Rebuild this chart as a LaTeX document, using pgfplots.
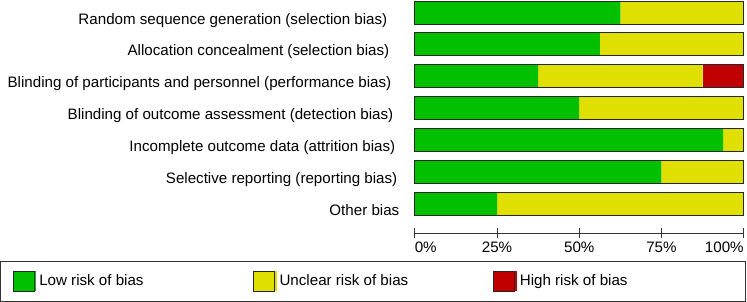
\documentclass[border=0pt]{standalone}
\usepackage{fontspec}
\setmainfont{Liberation Sans}
\usepackage{pgfplots}
\pgfplotsset{compat=1.18}
\definecolor{rbgreen}{RGB}{0,192,0}
\definecolor{rbyellow}{RGB}{224,224,0}
\definecolor{rbred}{RGB}{192,0,0}
\newcommand{\lfont}{\fontsize{15.2}{18}\selectfont}
\pgfplotsset{rbbase/.style={
  xbar stacked, scale only axis, width=329bp, height=233.2bp,
  xmin=0, xmax=100, ymin=-0.917, ymax=6.39,
  bar width=23bp, clip=false,
}}
\begin{document}
\begin{tikzpicture}
\begin{axis}[rbbase,
  axis x line=bottom, axis y line=left,
  x axis line style={-, black!80, line width=0.9bp},
  y axis line style={draw=none},
  xtick={0,25,50,75,100},
  xticklabels={\makebox[0pt][l]{0\%},25\%,50\%,75\%,\makebox[0pt][r]{100\%}},
  major tick length=10bp, tick align=center,
  xtick style={black!80, line width=0.9bp},
  ytick style={draw=none},
  ytick={0,...,6},
  yticklabels={Other bias,
    Selective reporting (reporting bias)\hspace*{2bp},
    Incomplete outcome data (attrition bias)\hspace*{4bp},
    Blinding of outcome assessment (detection bias)\hspace*{6bp},
    Blinding of participants and personnel (performance bias)\hspace*{8bp},
    Allocation concealment (selection bias)\hspace*{10bp},
    Random sequence generation (selection bias)\hspace*{12bp}},
  tick label style={font=\lfont},
  yticklabel style={anchor=base east, xshift=-7bp, yshift=-11.5bp},
  legend style={at={(axis description cs:-1.2599,-0.12)}, anchor=north west,
    draw=black!80, line width=0.8bp, inner xsep=12bp, inner ysep=9.3bp,
    font=\lfont, /tikz/column sep=0pt,
    nodes={inner xsep=3bp, inner ysep=2bp, anchor=west}},
  legend columns=3, legend cell align=left,
  legend image code/.code={\path (0bp,-10bp) rectangle (23bp,10bp);
    \draw[#1,draw=black!85,line width=0.8bp] (0bp,-10bp) rectangle (21bp,10bp);},
]
\addplot[fill=rbgreen, draw=none] coordinates {(25,0) (75,1) (93.75,2) (50,3) (37.5,4) (56.25,5) (62.5,6)};
\addplot[fill=rbyellow, draw=none] coordinates {(75,0) (25,1) (6.25,2) (50,3) (50,4) (43.75,5) (37.5,6)};
\addplot[fill=rbred, draw=none] coordinates {(0,0) (0,1) (0,2) (0,3) (12.5,4) (0,5) (0,6)};
\addlegendentry{\makebox[211bp][l]{Low risk of bias}}
\addlegendentry{\makebox[211bp][l]{Unclear risk of bias}}
\addlegendentry{\makebox[211bp][l]{High risk of bias}}
\end{axis}
\begin{axis}[rbbase, hide axis]
\addplot[fill=none, draw=black!85, line width=0.9bp] coordinates {(100,0) (100,1) (100,2) (100,3) (100,4) (100,5) (100,6)};
\path (rel axis cs:-1.2614,1.0004) rectangle (rel axis cs:1.00912,-0.2946);
\end{axis}
\end{tikzpicture}
\end{document}
